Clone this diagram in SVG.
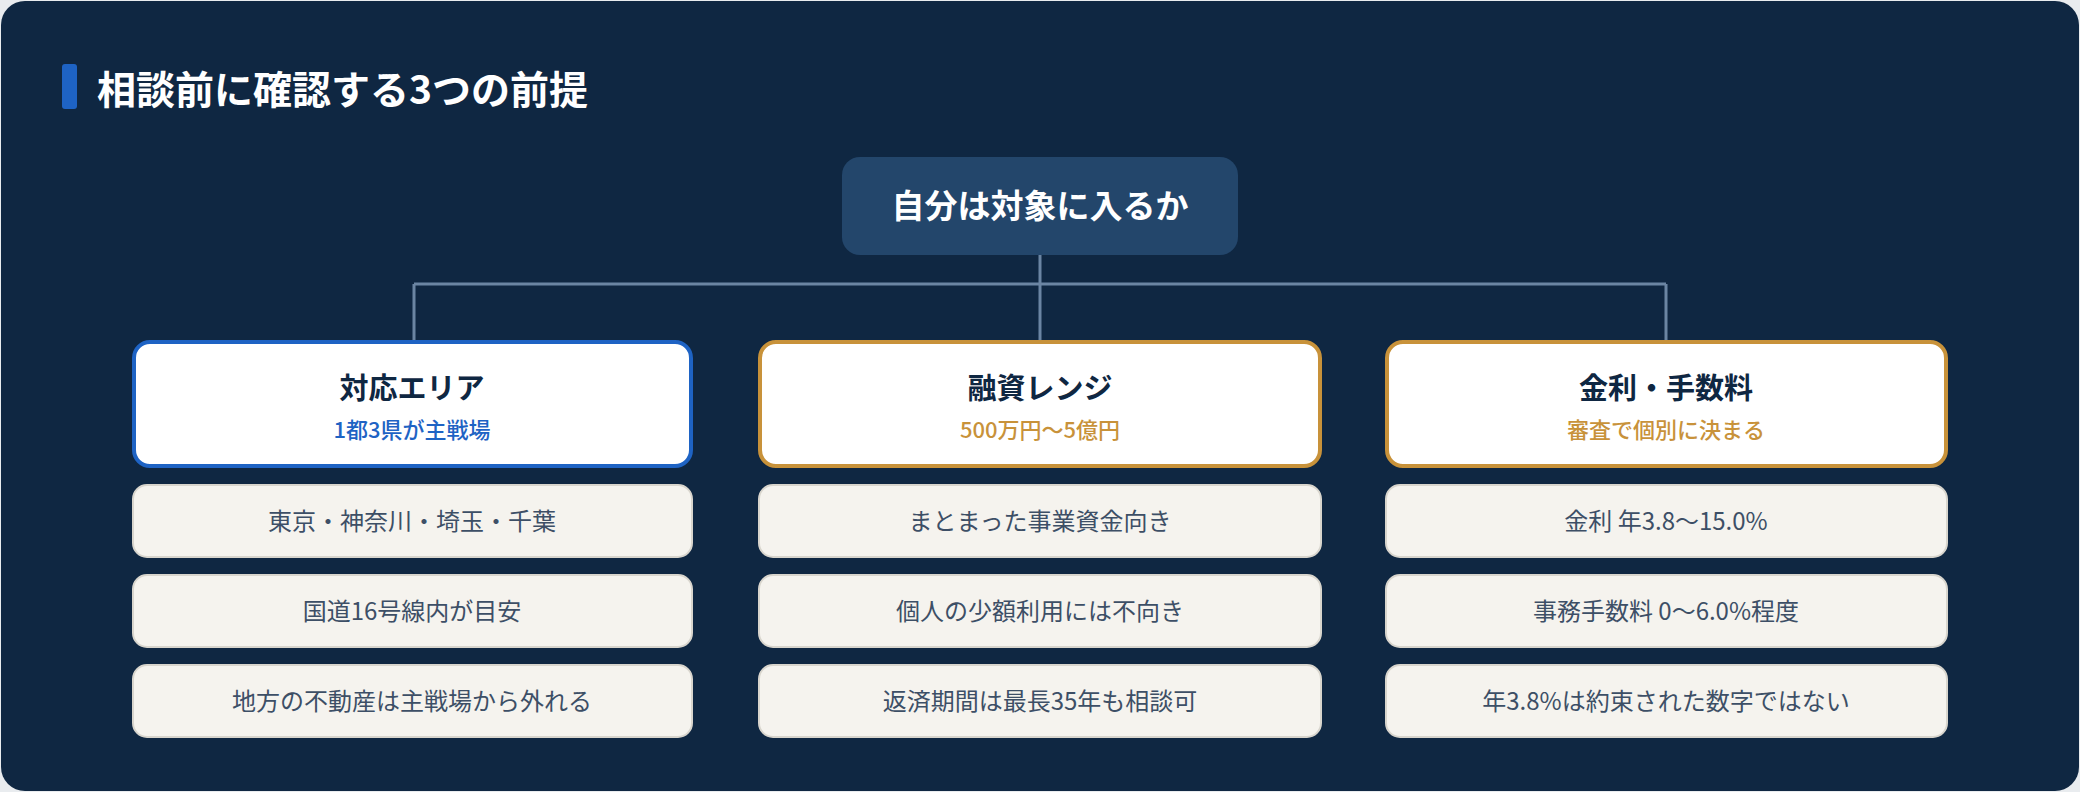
<svg xmlns="http://www.w3.org/2000/svg" width="2080" height="792" viewBox="0 0 2080 792">
<style>
text{font-family:"Noto Sans CJK JP","Noto Sans",sans-serif;text-anchor:middle}
.card{fill:#fff;stroke-width:4}
.blue{stroke:#1e63c4}.gold{stroke:#c8923a}
.ct{font-size:29px;font-weight:700;fill:#0f2742}
.cs{font-size:22px;font-weight:500}
.item{fill:#f5f3ee;stroke:#d8d5cd;stroke-width:2}
.it{font-size:24px;fill:#3d4f66}
.conn{stroke:#6b85a3;stroke-width:3;fill:none}
</style>
<rect width="2080" height="792" fill="#e9ecef"/>
<rect x="1" y="1" width="2078" height="790" rx="24" fill="#0f2742"/>
<rect x="62" y="64" width="15" height="45" rx="3" fill="#1e63c4"/>
<text x="97" y="104" style="text-anchor:start;font-size:39px;font-weight:700;fill:#fff">相談前に確認する3つの前提</text>
<g id="connectors">
<path class="conn" d="M1040 255V284M414 284H1666M414 284V341M1040 284V341M1666 284V341"/>
</g>
<g id="root">
<rect x="842" y="157" width="396" height="98" rx="18" fill="#23466b"/>
<text x="1040" y="218" style="font-size:33px;font-weight:700;fill:#fff">自分は対象に入るか</text>
</g>
<g id="area">
<rect class="card blue" x="134" y="342" width="557" height="124" rx="16"/>
<text class="ct" x="412" y="399">対応エリア</text>
<text class="cs" x="412" y="438" fill="#1e63c4">1都3県が主戦場</text>
</g>
<g id="range">
<rect class="card gold" x="760" y="342" width="560" height="124" rx="16"/>
<text class="ct" x="1040" y="399">融資レンジ</text>
<text class="cs" x="1040" y="438" fill="#c8923a">500万円〜5億円</text>
</g>
<g id="rate">
<rect class="card gold" x="1387" y="342" width="559" height="124" rx="16"/>
<text class="ct" x="1666" y="399">金利・手数料</text>
<text class="cs" x="1666" y="438" fill="#c8923a">審査で個別に決まる</text>
</g>
<g id="area-items">
<rect class="item" x="133" y="485" width="559" height="72" rx="14"/><text class="it" x="412" y="530">東京・神奈川・埼玉・千葉</text>
<rect class="item" x="133" y="575" width="559" height="72" rx="14"/><text class="it" x="412" y="620">国道16号線内が目安</text>
<rect class="item" x="133" y="665" width="559" height="72" rx="14"/><text class="it" x="412" y="710">地方の不動産は主戦場から外れる</text>
</g>
<g id="range-items">
<rect class="item" x="759" y="485" width="562" height="72" rx="14"/><text class="it" x="1040" y="530">まとまった事業資金向き</text>
<rect class="item" x="759" y="575" width="562" height="72" rx="14"/><text class="it" x="1040" y="620">個人の少額利用には不向き</text>
<rect class="item" x="759" y="665" width="562" height="72" rx="14"/><text class="it" x="1040" y="710">返済期間は最長35年も相談可</text>
</g>
<g id="rate-items">
<rect class="item" x="1386" y="485" width="561" height="72" rx="14"/><text class="it" x="1666" y="530">金利 年3.8〜15.0%</text>
<rect class="item" x="1386" y="575" width="561" height="72" rx="14"/><text class="it" x="1666" y="620">事務手数料 0〜6.0%程度</text>
<rect class="item" x="1386" y="665" width="561" height="72" rx="14"/><text class="it" x="1666" y="710">年3.8%は約束された数字ではない</text>
</g>
</svg>
